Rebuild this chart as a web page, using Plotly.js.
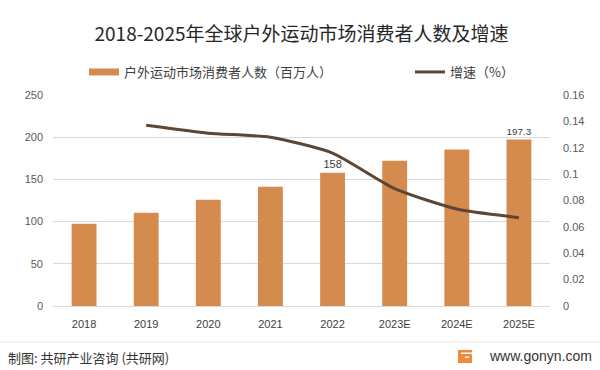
<!DOCTYPE html>
<html>
<head>
<meta charset="utf-8">
<script src="https://cdn.plot.ly/plotly-3.0.1.min.js"></script>
<style>html,body{margin:0;padding:0;background:#fff;}#chart{width:600px;height:370px;}</style>
</head>
<body>
<div id="chart"></div>
<script>
// ---- data ----
const years = ['2018','2019','2020','2021','2022','2023E','2024E','2025E'];
const consumers = [97.5, 110.4, 125.9, 141.3, 158, 172.2, 185.3, 197.3];
const barLabels = ['', '', '', '', '158', '', '', '197.3'];
const growthYears = ['2019','2020','2021','2022','2023E','2024E','2025E'];
const growth = [0.137, 0.131, 0.128, 0.116, 0.089, 0.0735, 0.067];
const leftTicks = [0, 50, 100, 150, 200, 250];
const rightTickVals = [0, 0.02, 0.04, 0.06, 0.08, 0.10, 0.12, 0.14, 0.16];
const rightTickText = ['0', '0.02', '0.04', '0.06', '0.08', '0.1', '0.12', '0.14', '0.16'];
const barName = '户外运动市场消费者人数（百万人）';
const lineName = '增速（%）';

// ---- layout helpers ----
const W = 600, H = 370;
const M = {l: 53, r: 50, t: 95, b: 64};
const pw = W - M.l - M.r, ph = H - M.t - M.b;
const px = x => (x - M.l) / pw;
const py = y => (H - M.b - y) / ph;

const barColor = '#D58B4E';
const lineColor = '#5E4634';
const cjk = '"Noto Sans CJK SC", "Microsoft YaHei", sans-serif';
const latin = '"Liberation Sans", Arial, sans-serif';

const traces = [
  {
    type: 'bar', x: years, y: consumers, name: barName,
    marker: {color: barColor}, showlegend: false,
    text: barLabels, textposition: 'outside', cliponaxis: false,
    textfont: {family: latin, size: 11, color: '#404040'},
    hoverinfo: 'x+y'
  },
  {
    // legend proxy for the bar series (wide flat swatch like the original)
    type: 'scatter', mode: 'lines', x: [null], y: [null], name: barName,
    line: {color: barColor, width: 7}, legend: 'legend', hoverinfo: 'skip'
  },
  {
    type: 'scatter', mode: 'lines', x: growthYears, y: growth, name: lineName,
    yaxis: 'y2', line: {color: lineColor, width: 3, shape: 'spline', smoothing: 0.6},
    legend: 'legend2'
  }
];

const layout = {
  width: W, height: H,
  margin: M,
  paper_bgcolor: '#fff', plot_bgcolor: '#fff',
  font: {family: cjk, color: '#595959'},
  title: {
    text: '2018-2025年全球户外运动市场消费者人数及增速',
    font: {family: cjk, size: 19, color: '#262626'},
    x: 0.5, xanchor: 'center', xref: 'paper',
    y: 1 - 34 / H, yanchor: 'middle', yref: 'container'
  },
  bargap: 0.6,
  xaxis: {
    type: 'category', showgrid: false, zeroline: false, showline: false,
    ticks: '', tickfont: {family: latin, size: 11, color: '#404040'},
    ticklabelstandoff: 10
  },
  yaxis: {
    range: [0, 250], tickvals: leftTicks, showgrid: true, gridcolor: '#d9d9d9',
    gridwidth: 1, zeroline: true, zerolinecolor: '#d9d9d9', zerolinewidth: 1,
    showline: false, ticks: '', tickfont: {family: latin, size: 11, color: '#595959'},
    ticklabelstandoff: 9
  },
  yaxis2: {
    overlaying: 'y', side: 'right', range: [0, 0.16],
    tickvals: rightTickVals, ticktext: rightTickText,
    showgrid: false, zeroline: false, showline: false, ticks: '',
    tickfont: {family: latin, size: 11, color: '#595959'},
    ticklabelstandoff: 12
  },
  legend: {
    orientation: 'h', x: px(84), xanchor: 'left', y: py(72), yanchor: 'middle',
    font: {family: cjk, size: 13, color: '#404040'}, itemwidth: 30,
    bgcolor: 'rgba(0,0,0,0)'
  },
  legend2: {
    orientation: 'h', x: px(410), xanchor: 'left', y: py(72), yanchor: 'middle',
    font: {family: cjk, size: 13, color: '#404040'}, itemwidth: 30,
    bgcolor: 'rgba(0,0,0,0)'
  },
  shapes: [
    {type: 'line', xref: 'paper', yref: 'paper', x0: px(0), x1: px(600), y0: py(342), y1: py(342),
     line: {color: '#e6e6e6', width: 1}},
    {type: 'rect', xref: 'paper', yref: 'paper', x0: px(458), x1: px(472), y0: py(363), y1: py(350),
     fillcolor: '#F08A3E', line: {width: 0}},
    {type: 'rect', xref: 'paper', yref: 'paper', x0: px(461), x1: px(472), y0: py(354), y1: py(352.5),
     fillcolor: '#ffffff', line: {width: 0}},
    {type: 'rect', xref: 'paper', yref: 'paper', x0: px(465), x1: px(469), y0: py(358), y1: py(356.5),
     fillcolor: '#ffffff', line: {width: 0}}
  ],
  annotations: [
    {text: '制图: 共研产业咨询 (共研网)', xref: 'paper', yref: 'paper', x: px(6), y: py(357),
     xanchor: 'left', yanchor: 'middle', showarrow: false,
     font: {family: cjk, size: 13, color: '#333333'}},
    {text: 'www.gonyn.com', xref: 'paper', yref: 'paper', x: px(594), y: py(356),
     xanchor: 'right', yanchor: 'middle', showarrow: false,
     font: {family: latin, size: 14, color: '#333333'}}
  ]
};

Plotly.newPlot('chart', traces, layout, {displayModeBar: false, staticPlot: true});
</script>
</body>
</html>
